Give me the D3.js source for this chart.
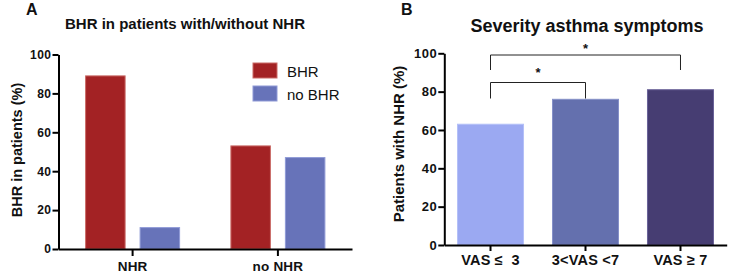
<!DOCTYPE html>
<html>
<head>
<meta charset="utf-8">
<script src="https://cdn.jsdelivr.net/npm/d3@7"></script>
<style>
  body { margin: 0; background: #fff; }
  svg text { font-family: "Liberation Sans", Arial, sans-serif; fill: #111; white-space: pre; }
  .axis path, .axis line { stroke: #000; stroke-width: 2px; }
  .axis text { font-weight: bold; font-size: 12px; letter-spacing: 0.5px; }
</style>
</head>
<body>
<div id="chart"></div>
<script>
// panel A data
const groupsA = ["NHR", "no NHR"];
const seriesA = ["BHR", "no BHR"];
const bhrValues = [89, 53];
const noBhrValues = [11, 47];
// panel B data
const categoriesB = ["VAS \u2264  3", "3<VAS <7", "VAS \u2265 7"];
const valuesB = [63, 76, 81];
const yTicks = [0, 20, 40, 60, 80, 100];

const width = 731, height = 273;
const svg = d3.select("#chart").append("svg")
  .attr("width", width)
  .attr("height", height);

// ---------- Panel A ----------
const yA = d3.scaleLinear().domain([0, 100]).range([249, 54.5]);
const xA = d3.scaleBand().domain(groupsA).range([58.5, 352]).paddingInner(0).paddingOuter(0.01);
const xInner = d3.scaleBand().domain(seriesA).range([-47, 47]).paddingInner(0.275);
const colA = {"BHR": "#a32224", "no BHR": "#6773b9"};
const strokeA = {"BHR": "#c96a66", "no BHR": "#8f9ad6"};

const gA = svg.append("g");
const rowsA = groupsA.map((g, i) => ({group: g, vals: [
  {key: "BHR", v: bhrValues[i]}, {key: "no BHR", v: noBhrValues[i]}]}));

gA.selectAll("g.grp").data(rowsA).enter().append("g")
  .attr("class", "grp")
  .attr("transform", d => `translate(${xA(d.group) + xA.bandwidth() / 2},0)`)
  .selectAll("rect").data(d => d.vals).enter().append("rect")
  .attr("x", d => xInner(d.key))
  .attr("width", xInner.bandwidth())
  .attr("y", d => yA(d.v))
  .attr("height", d => yA(0) - yA(d.v))
  .attr("fill", d => colA[d.key])
  .attr("stroke", d => strokeA[d.key])
  .attr("stroke-width", 1);

gA.append("g").attr("class", "axis")
  .attr("transform", `translate(58.5,0)`)
  .call(d3.axisLeft(yA).tickValues(yTicks).tickSize(6).tickSizeOuter(0).tickPadding(1));
gA.append("g").attr("class", "axis")
  .attr("transform", `translate(0,${yA(0)})`)
  .call(d3.axisBottom(xA).tickSize(7).tickSizeOuter(0).tickPadding(5))
  .selectAll("text").style("font-size", "13.5px").style("letter-spacing", "0.2px");

// legend A
const legA = gA.append("g").attr("transform", "translate(253,63)");
seriesA.forEach((s, i) => {
  legA.append("rect").attr("x", 0).attr("y", i * 23).attr("width", 24).attr("height", 15)
    .attr("fill", colA[s]).attr("stroke", strokeA[s]);
  legA.append("text").attr("x", 34).attr("y", i * 23 + 13.5)
    .style("font-size", "15px").text(s);
});

svg.append("text").attr("x", 26).attr("y", 15)
  .style("font-size", "16px").style("font-weight", "bold").text("A");
svg.append("text").attr("x", 185).attr("y", 29).attr("text-anchor", "middle")
  .style("font-size", "15px").style("font-weight", "bold")
  .text("BHR in patients with/without NHR");
svg.append("text").attr("transform", "translate(21.5,150) rotate(-90)")
  .attr("text-anchor", "middle").style("font-size", "14.5px").style("font-weight", "bold")
  .text("BHR in patients (%)");

// ---------- Panel B ----------
const yB = d3.scaleLinear().domain([0, 100]).range([245, 53.3]);
const xB = d3.scaleBand().domain(categoriesB).range([444.3, 726.7]).paddingInner(0.305).paddingOuter(0.139);
const colB = ["#9ba9f2", "#6470ae", "#463d72"];
const strokeB = ["#b4c0f8", "#8590c8", "#6a6298"];

const gB = svg.append("g");
gB.selectAll("rect").data(valuesB).enter().append("rect")
  .attr("x", (d, i) => xB(categoriesB[i]))
  .attr("width", xB.bandwidth())
  .attr("y", d => yB(d))
  .attr("height", d => yB(0) - yB(d))
  .attr("fill", (d, i) => colB[i])
  .attr("stroke", (d, i) => strokeB[i])
  .attr("stroke-width", 1);

gB.append("g").attr("class", "axis")
  .attr("transform", `translate(444.3,0)`)
  .call(d3.axisLeft(yB).tickValues(yTicks).tickSize(6).tickSizeOuter(0).tickPadding(1))
  .selectAll("text").style("font-size", "13px");
gB.append("g").attr("class", "axis")
  .attr("transform", `translate(0,${yB(0)})`)
  .call(d3.axisBottom(xB).tickSize(6).tickSizeOuter(0).tickPadding(4))
  .selectAll("text").style("font-size", "14.5px").style("letter-spacing", "0.2px");

// significance brackets
const cx = i => xB(categoriesB[i]) + xB.bandwidth() / 2;
const brackets = [
  {from: 0, to: 1, top: 82.5, legs: [98.5, 98.5], star: 72},
  {from: 0, to: 2, top: 55, legs: [70, 70], star: 48}
];
brackets.forEach(b => {
  gB.append("path")
    .attr("d", `M${cx(b.from)},${b.legs[0]}V${b.top}H${cx(b.to)}V${b.legs[1]}`)
    .attr("fill", "none").attr("stroke", "#222").attr("stroke-width", 1);
  gB.append("text").attr("x", (cx(b.from) + cx(b.to)) / 2).attr("y", b.star + 5)
    .attr("text-anchor", "middle").style("font-size", "13px").style("font-weight", "bold").text("*");
});

svg.append("text").attr("x", 401).attr("y", 15)
  .style("font-size", "16px").style("font-weight", "bold").text("B");
svg.append("text").attr("x", 587).attr("y", 31.5).attr("text-anchor", "middle")
  .style("font-size", "18px").style("font-weight", "bold")
  .text("Severity asthma symptoms");
svg.append("text").attr("transform", "translate(403.5,144) rotate(-90)")
  .attr("text-anchor", "middle").style("font-size", "15px").style("font-weight", "bold")
  .text("Patients with NHR (%)");
</script>
</body>
</html>
